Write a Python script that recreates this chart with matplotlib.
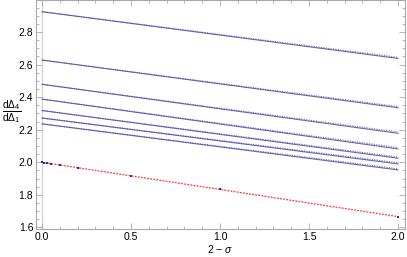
import matplotlib
matplotlib.use('Agg')
import matplotlib.pyplot as plt
from matplotlib.ticker import MultipleLocator, FormatStrFormatter

plt.rcParams['font.family'] = ['Liberation Sans', 'DejaVu Sans']
plt.rcParams['mathtext.fontset'] = 'custom'
plt.rcParams['mathtext.rm'] = 'Liberation Sans'
plt.rcParams['mathtext.it'] = 'Liberation Sans:italic'

# curves: value at 2-sigma = 0 and at 2-sigma = 2
x_ends = [0.0, 2.0]
start_vals = [2.925, 2.628, 2.479, 2.388, 2.318, 2.272, 2.236]
end_vals = [2.638, 2.335, 2.178, 2.082, 2.025, 1.990, 1.953]
fit_end_vals = [2.645, 2.342, 2.186, 2.090, 2.032, 1.997, 1.960]

# red curve and its data points
red_x = [0.0, 2.0]
red_y = [2.0, 1.666]
pts_x = [0.0, 0.01, 0.025, 0.05, 0.1, 0.2, 0.5, 1.0, 2.0]
pts_y = [2.0, 1.998, 1.996, 1.992, 1.983, 1.967, 1.916, 1.834, 1.666]

fig = plt.figure(figsize=(4.07, 2.57), dpi=100)
ax = fig.add_axes([36/407, 28/257, 369/407, 229/257])

ax.axvline(0, color='#d5d5d5', lw=1, zorder=0)

for s, e, f in zip(start_vals, end_vals, fit_end_vals):
    ax.plot(x_ends, [s, e], color='#6a6a90', lw=0.8)
    ax.plot(x_ends, [s, f], color='#4040f0', lw=0.8, ls=(0, (1, 1.2)), alpha=0.8)

ax.plot(red_x, red_y, color='#ff3838', lw=0.9, ls=(0, (1.5, 1)))
ax.plot(pts_x, pts_y, ls='none', marker='s', ms=1.8, color='#3a2a9a', mew=0)

ax.set_xlim(-0.034, 2.039)
ax.set_ylim(1.590, 2.997)
ax.xaxis.set_major_locator(MultipleLocator(0.5))
ax.xaxis.set_minor_locator(MultipleLocator(0.1))
ax.yaxis.set_major_locator(MultipleLocator(0.2))
ax.yaxis.set_minor_locator(MultipleLocator(0.05))
ax.xaxis.set_major_formatter(FormatStrFormatter('%.1f'))
ax.yaxis.set_major_formatter(FormatStrFormatter('%.1f'))

for sp in ax.spines.values():
    sp.set_color('#a8a8a8')
    sp.set_linewidth(0.8)
ax.tick_params(which='both', direction='in', top=True, right=True,
               color='#a8a8a8', labelsize=7.5, width=0.6)
ax.tick_params(which='major', length=4, pad=2)
ax.tick_params(which='minor', length=2)

ax.set_xlabel('2 \u2212 $\\sigma$', fontsize=7.5, labelpad=1)
fig.text(0.004, 0.565, r'$\dfrac{\mathrm{d}\Delta_4}{\mathrm{d}\Delta_1}$', fontsize=7.5,
         ha='left', va='center')

fig.savefig('out.png', dpi=100)
